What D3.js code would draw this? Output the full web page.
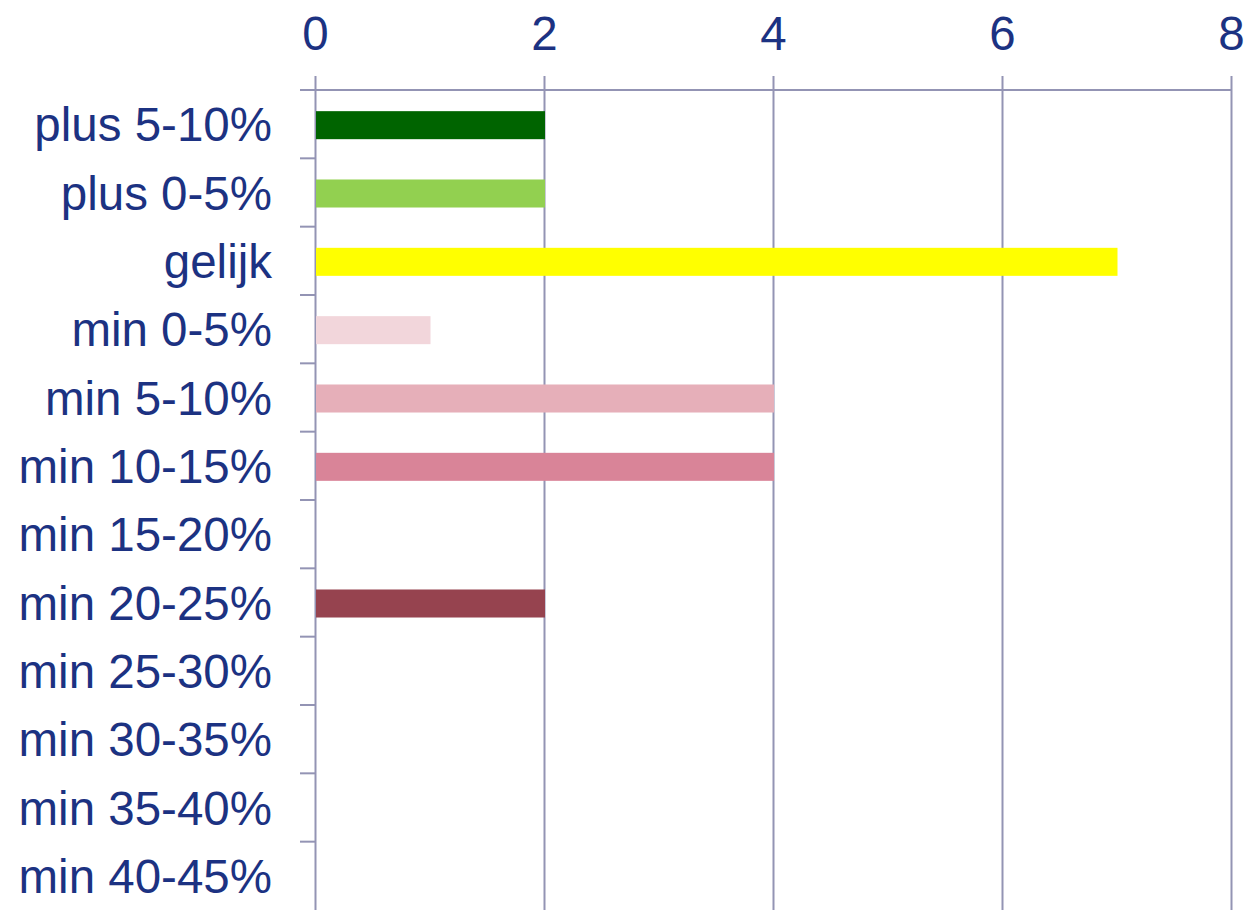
<!DOCTYPE html>
<meta charset="utf-8">
<style>
    body {
        margin: 0;
        background: #fff;
    }
    text {
        font-family: "Liberation Sans", Arial, sans-serif;
        fill: #1c3282;
    }
</style>

<body>
    <script src="https://cdn.jsdelivr.net/npm/d3@7"></script>
    <script>
        var categories = ['plus 5-10%', 'plus 0-5%', 'gelijk', 'min 0-5%', 'min 5-10%', 'min 10-15%',
            'min 15-20%', 'min 20-25%', 'min 25-30%', 'min 30-35%', 'min 35-40%', 'min 40-45%']
        var values = [2, 2, 7, 1, 4, 4, 0, 2, 0, 0, 0, 0]
        var barColors = ['#006400', '#92d050', '#ffff00', '#f2d6db', '#e6afb9', '#d98498',
            '#c06070', '#96434f', '#7a2e3a', '#6a2530', '#5a1e28', '#4a1820']
        var xTicks = [0, 2, 4, 6, 8]

        var width = 1248
        var height = 910
        var lineColor = '#9394b4'

        var x = d3.scaleLinear().domain([0, 8]).range([315, 1231])
        var y = d3.scaleBand().domain(categories).range([90, 910]).padding(0)

        var svg = d3.select('body')
            .append('svg')
            .attr('width', width)
            .attr('height', height)

        // vertical gridlines + top tick labels
        var xAxis = svg.append('g')
            .attr('transform', 'translate(0,90)')
            .call(d3.axisTop(x).tickValues(xTicks).tickSizeInner(-820).tickSizeOuter(0).tickPadding(40))

        xAxis.select('.domain').remove()
        xAxis.selectAll('.tick line')
            .attr('y1', -14)
            .attr('stroke', lineColor)
            .attr('stroke-width', 2)
        xAxis.selectAll('.tick text')
            .attr('font-size', 47.5)
            .attr('fill', '#1c3282')
            .attr('dy', 0)

        // top line
        svg.append('line')
            .attr('x1', 300).attr('x2', x(8))
            .attr('y1', 90).attr('y2', 90)
            .attr('stroke', lineColor)
            .attr('stroke-width', 2)

        // left ticks at band boundaries
        svg.selectAll('.ytick')
            .data(categories)
            .enter().append('line')
            .attr('class', 'ytick')
            .attr('x1', 300).attr('x2', x(0))
            .attr('y1', function (d) { return y(d) })
            .attr('y2', function (d) { return y(d) })
            .attr('stroke', lineColor)
            .attr('stroke-width', 2)

        // category labels
        svg.selectAll('.label')
            .data(categories)
            .enter().append('text')
            .attr('class', 'label')
            .attr('x', 272)
            .attr('y', function (d) { return y(d) + y.bandwidth() / 2 })
            .attr('dy', '0.36em')
            .attr('text-anchor', 'end')
            .attr('font-size', 47.5)
            .text(function (d) { return d })

        // bars
        var barH = y.bandwidth() * 0.41
        svg.selectAll('.bar')
            .data(values)
            .enter().append('rect')
            .attr('class', 'bar')
            .attr('x', x(0) + 1)
            .attr('y', function (d, i) { return y(categories[i]) + y.bandwidth() / 2 - barH / 2 + 1 })
            .attr('width', function (d) { return d > 0 ? x(d) - x(0) : 0 })
            .attr('height', barH)
            .attr('fill', function (d, i) { return barColors[i] })
    </script>
</body>
